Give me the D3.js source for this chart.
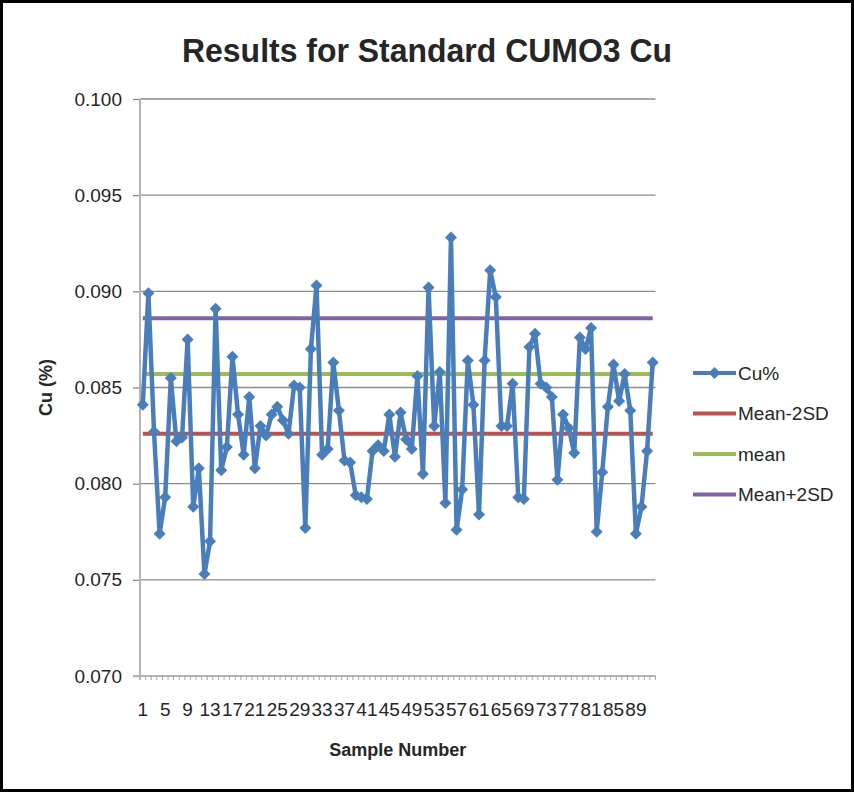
<!DOCTYPE html>
<html>
<head>
<meta charset="utf-8">
<script src="https://cdn.jsdelivr.net/npm/d3@7/dist/d3.min.js"></script>
<style>
    body { margin: 0; background: #fff; }
    text { font-family: "Liberation Sans", Arial, sans-serif; fill: #262626; }
</style>
</head>
<body>
<script>
/*global d3*/

/** Sample numbers along the x axis **/
var categories = d3.range(1, 93);

/** Cu% results, one per sample **/
var cuValues = [
    0.0841, 0.0899, 0.0827, 0.0774, 0.0793, 0.0855, 0.0822, 0.0824, 0.0875, 0.0788,
    0.0808, 0.0753, 0.0770, 0.0891, 0.0807, 0.0819, 0.0866, 0.0836, 0.0815, 0.0845,
    0.0808, 0.0830, 0.0825, 0.0836, 0.0840, 0.0833, 0.0826, 0.0851, 0.0850, 0.0777,
    0.0870, 0.0903, 0.0815, 0.0818, 0.0863, 0.0838, 0.0812, 0.0811, 0.0794, 0.0793,
    0.0792, 0.0817, 0.0820, 0.0817, 0.0836, 0.0814, 0.0837, 0.0823, 0.0818, 0.0856,
    0.0805, 0.0902, 0.0830, 0.0858, 0.0790, 0.0928, 0.0776, 0.0797, 0.0864, 0.0841,
    0.0784, 0.0864, 0.0911, 0.0897, 0.0830, 0.0830, 0.0852, 0.0793, 0.0792, 0.0871,
    0.0878, 0.0852, 0.0850, 0.0845, 0.0802, 0.0836, 0.0829, 0.0816, 0.0876, 0.0870,
    0.0881, 0.0775, 0.0806, 0.0840, 0.0862, 0.0843, 0.0857, 0.0838, 0.0774, 0.0788,
    0.0817, 0.0863
];

/** Control limits (constant series) **/
var meanMinus2SD = 0.0826,
    meanValue = 0.0857,
    meanPlus2SD = 0.0886;

var seriesNames = ["Cu%", "Mean-2SD", "mean", "Mean+2SD"],
    seriesColors = ["#4A7EBB", "#C0504D", "#9BBB59", "#8064A2"];

var yTicks = [0.070, 0.075, 0.080, 0.085, 0.090, 0.095, 0.100];

/** Only every 4th sample number gets a label **/
var xLabels = [1, 5, 9, 13, 17, 21, 25, 29, 33, 37, 41, 45, 49, 53, 57, 61, 65, 69, 73, 77, 81, 85, 89];

window.onload = function () {
    var width = 854,
        height = 792,
        plot = { left: 140, right: 655.5, top: 99, bottom: 676 };

    var svg = d3.select("body").append("svg")
        .attr("width", width)
        .attr("height", height);

    svg.append("rect")
        .attr("x", 1.5).attr("y", 1.5)
        .attr("width", width - 3).attr("height", height - 3)
        .attr("fill", "#fff")
        .attr("stroke", "#000")
        .attr("stroke-width", 3);

    var x = d3.scaleBand()
        .domain(categories)
        .range([plot.left, plot.right]);

    var y = d3.scaleLinear()
        .domain([0.070, 0.100])
        .range([plot.bottom, plot.top]);

    var cx = function (c) { return x(c) + x.bandwidth() / 2; };

    /** Gridlines + y axis **/
    var yAxis = svg.append("g")
        .attr("transform", "translate(" + plot.left + ",0)")
        .call(d3.axisLeft(y)
            .tickValues(yTicks)
            .tickFormat(d3.format(".3f"))
            .tickSize(7)
            .tickPadding(11));
    yAxis.select(".domain").remove();
    yAxis.selectAll(".tick line").attr("stroke", "#8c8c8c").attr("stroke-width", 1.3);
    yAxis.selectAll(".tick text")
        .attr("font-size", 19)
        .attr("fill", "#262626")
        .style("font-family", "'Liberation Sans', Arial, sans-serif");

    svg.append("g").selectAll("line")
        .data(yTicks.slice(1))
        .enter().append("line")
        .attr("x1", plot.left).attr("x2", plot.right)
        .attr("y1", function (d) { return y(d); })
        .attr("y2", function (d) { return y(d); })
        .attr("stroke", "#8c8c8c")
        .attr("stroke-width", 1.3);

    /** Axis lines **/
    svg.append("line")
        .attr("x1", plot.left).attr("x2", plot.left)
        .attr("y1", plot.top).attr("y2", plot.bottom + 4)
        .attr("stroke", "#b3b3b3").attr("stroke-width", 2);

    svg.append("line")
        .attr("x1", plot.left - 7).attr("x2", plot.right)
        .attr("y1", plot.bottom).attr("y2", plot.bottom)
        .attr("stroke", "#b3b3b3").attr("stroke-width", 2);

    /** Category boundary ticks **/
    svg.append("g").selectAll("line")
        .data(categories)
        .enter().append("line")
        .attr("x1", function (d) { return x(d) + x.bandwidth(); })
        .attr("x2", function (d) { return x(d) + x.bandwidth(); })
        .attr("y1", plot.bottom)
        .attr("y2", plot.bottom + 4)
        .attr("stroke", "#a6a6a6")
        .attr("stroke-width", 1);

    /** X tick labels **/
    var xAxis = svg.append("g")
        .attr("transform", "translate(0," + plot.bottom + ")")
        .call(d3.axisBottom(x)
            .tickValues(xLabels)
            .tickSize(0)
            .tickPadding(27));
    xAxis.select(".domain").remove();
    xAxis.selectAll(".tick text")
        .attr("font-size", 19)
        .attr("fill", "#262626")
        .style("font-family", "'Liberation Sans', Arial, sans-serif");

    /** Reference lines **/
    var limits = [meanMinus2SD, meanValue, meanPlus2SD];
    var first = categories[0],
        last = categories[categories.length - 1];

    limits.forEach(function (v, i) {
        svg.append("line")
            .attr("x1", cx(first)).attr("x2", cx(last))
            .attr("y1", y(v)).attr("y2", y(v))
            .attr("stroke", seriesColors[i + 1])
            .attr("stroke-width", 4);
    });

    /** Cu% series **/
    var line = d3.line()
        .x(function (d, i) { return cx(categories[i]); })
        .y(function (d) { return y(d); });

    svg.append("path")
        .datum(cuValues)
        .attr("d", line)
        .attr("fill", "none")
        .attr("stroke", seriesColors[0])
        .attr("stroke-width", 4.5)
        .attr("stroke-linejoin", "round");

    var diamond = d3.symbol().type(d3.symbolSquare).size(72);

    svg.append("g").selectAll("path")
        .data(cuValues)
        .enter().append("path")
        .attr("d", diamond)
        .attr("transform", function (d, i) {
            return "translate(" + cx(categories[i]) + "," + y(d) + ") rotate(45)";
        })
        .attr("fill", seriesColors[0]);

    /** Title and axis titles **/
    svg.append("text")
        .attr("x", 427).attr("y", 62)
        .attr("text-anchor", "middle")
        .attr("font-size", 34)
        .attr("font-weight", "bold")
        .attr("textLength", 490)
        .attr("lengthAdjust", "spacingAndGlyphs")
        .attr("fill", "#000")
        .text("Results for Standard CUMO3 Cu");

    svg.append("text")
        .attr("transform", "translate(52," + (plot.top + plot.bottom) / 2 + ") rotate(-90)")
        .attr("text-anchor", "middle")
        .attr("font-size", 18)
        .attr("font-weight", "bold")
        .attr("fill", "#000")
        .text("Cu (%)");

    svg.append("text")
        .attr("x", (plot.left + plot.right) / 2).attr("y", 756)
        .attr("text-anchor", "middle")
        .attr("font-size", 18)
        .attr("font-weight", "bold")
        .attr("fill", "#000")
        .text("Sample Number");

    /** Legend **/
    var legend = svg.append("g").attr("transform", "translate(693,373)");

    seriesNames.forEach(function (name, i) {
        var row = legend.append("g").attr("transform", "translate(0," + i * 40.5 + ")");
        row.append("line")
            .attr("x1", 0).attr("x2", 43)
            .attr("y1", 0).attr("y2", 0)
            .attr("stroke", seriesColors[i])
            .attr("stroke-width", 4);
        if (i === 0) {
            row.append("path")
                .attr("d", diamond)
                .attr("transform", "translate(21.5,0) rotate(45)")
                .attr("fill", seriesColors[0]);
        }
        row.append("text")
            .attr("x", 45).attr("y", 0)
            .attr("dy", "0.35em")
            .attr("font-size", 19)
            .text(name);
    });
};
</script>
</body>
</html>
